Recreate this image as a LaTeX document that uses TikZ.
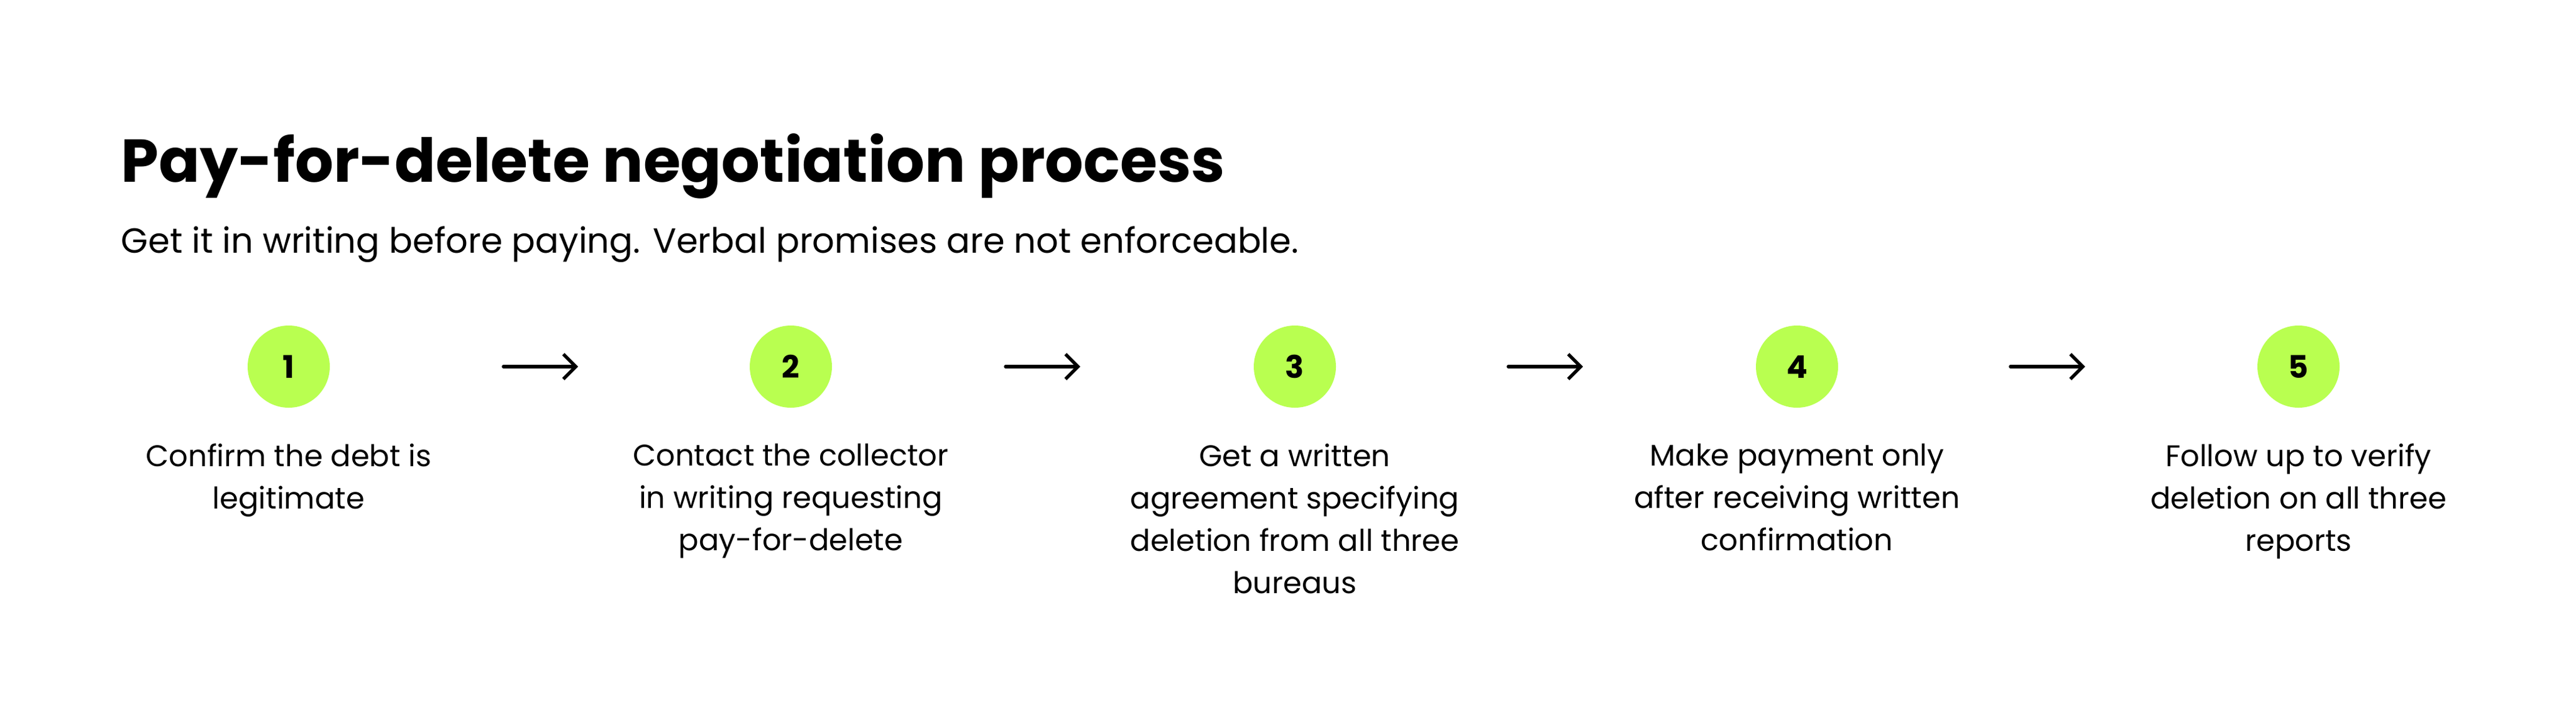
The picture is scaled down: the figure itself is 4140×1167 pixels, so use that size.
\documentclass[tikz,border=0pt]{standalone}
\usetikzlibrary{arrows.meta}
\usepackage{fontspec}
\setmainfont{Poppins}
\begin{document}
\begin{tikzpicture}[x=0.25pt,y=-0.25pt,
  num/.style={circle,fill=lime1,minimum size=33pt,inner sep=0pt,font=\fontsize{12.5}{15}\selectfont\bfseries},
  lbl/.style={anchor=north,align=center,font=\fontsize{12}{17}\selectfont,inner sep=0pt},
  arr/.style={line width=1.3pt,line cap=round,-{Straight Barb[length=5pt,width=10pt,line width=1.3pt]}}]
\definecolor{lime1}{HTML}{B9FF50}
\useasboundingbox (0,0) rectangle (4140,1167);
\node[anchor=base west,inner sep=0pt,font=\fontsize{24.3}{30}\selectfont\bfseries] (title) at (194,292) {Pay-for-delete negotiation process};
\node[anchor=base west,inner sep=0pt,font=\fontsize{14}{17}\selectfont] (sub) at (194,406) {Get it in writing before paying. Verbal promises are not enforceable.};
\foreach \i/\x/\t in {1/464/{Confirm the debt is\\legitimate},
  2/1271/{Contact the collector\\in writing requesting\\pay-for-delete},
  3/2081/{Get a written\\agreement specifying\\deletion from all three\\bureaus},
  4/2888/{Make payment only\\after receiving written\\confirmation},
  5/3694/{Follow up to verify\\deletion on all three\\reports}}{
  \node[num] (c\i) at (\x,589) {\i};
  \node[lbl] (l\i) at (\x,712) {\t};
}
\foreach \a/\b/\x in {1/2/809,2/3/1616,3/4/2424,4/5/3231}{
  \coordinate (s\a) at (\x,589);
  \coordinate (e\a) at (\x+120,589);
  \draw[arr] (s\a) -- (e\a);
}
\end{tikzpicture}
\end{document}
